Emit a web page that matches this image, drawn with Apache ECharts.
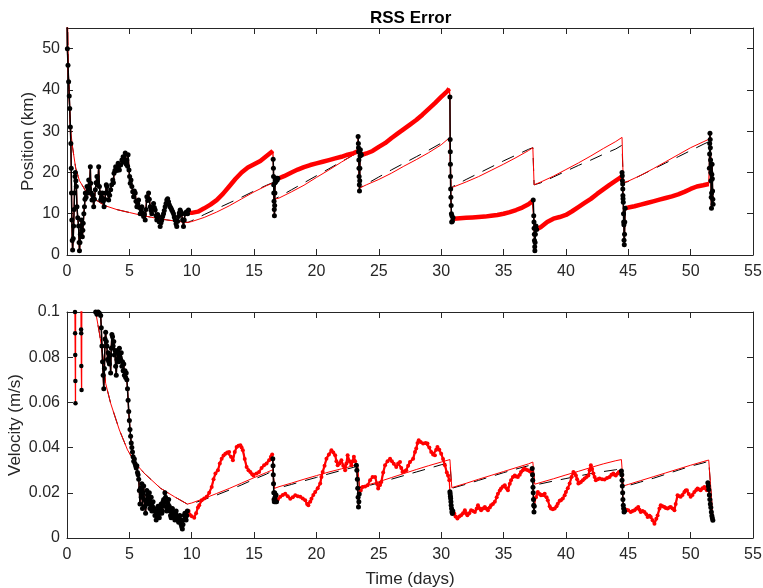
<!DOCTYPE html>
<html>
<head>
<meta charset="utf-8">
<title>RSS Error</title>
<script src="https://cdn.jsdelivr.net/npm/echarts@6.0.0/dist/echarts.min.js"></script>
<style>
  html, body { margin: 0; padding: 0; background: #ffffff; }
  #chart { width: 763px; height: 588px; }
</style>
</head>
<body>
<div id="chart"></div>
<script>
// ---------- axes ----------
const timeTicks = [0, 5, 10, 15, 20, 25, 30, 35, 40, 45, 50, 55];
const posTicks = [0, 10, 20, 30, 40, 50];
const posMax = 55;
const velTicks = [0, 0.02, 0.04, 0.06, 0.08, 0.1];

// ---------- position error (km): [time in days, value] ----------
// tracked span (black markers), first 9.7 days
const posPass0 = [[0,58],[0.03,50],[0.08,46],[0.13,42],[0.18,38.5],[0.22,35.5],[0.27,31],[0.31,27],[0.34,21],[0.36,15],[0.39,8.5],[0.42,3.5],[0.45,1.2],[0.5,4],[0.53,7],[0.57,11],[0.6,15],[0.64,19],[0.67,20],[0.71,18],[0.75,16.6],[0.8,11.7],[0.86,9],[0.93,7],[0.97,3],[1.0,1],[1.04,3],[1.07,5],[1.11,7],[1.15,8.5],[1.19,6],[1.23,4.4],[1.27,6],[1.3,7.7],[1.35,10],[1.4,11.7],[1.44,13.5],[1.47,15],[1.53,14],[1.6,16.6],[1.67,15],[1.74,18.2],[1.8,16],[1.87,21.4],[1.9,17.4],[1.95,15],[2.0,13.3],[2.07,14.5],[2.14,11.7],[2.2,13.5],[2.27,15.8],[2.33,17.5],[2.4,19],[2.47,17],[2.54,21.4],[2.6,16.6],[2.65,15],[2.7,13.3],[2.77,14],[2.84,15],[2.9,13],[2.97,11.7],[3.03,13.5],[3.1,15],[3.15,17],[3.2,16.6],[3.27,15],[3.34,13.3],[3.42,14.5],[3.5,15.8],[3.58,17],[3.67,18.2],[3.72,17.5],[3.77,19.8],[3.84,20.5],[3.9,21.4],[4.0,20.5],[4.1,22.2],[4.2,20.6],[4.3,21.8],[4.4,23],[4.5,23.8],[4.58,22.5],[4.67,24.7],[4.75,22],[4.8,23],[4.86,21.5],[4.9,24.3],[4.97,20.6],[5.02,19],[5.07,17.4],[5.13,18.2],[5.2,16.6],[5.27,15.3],[5.34,14.1],[5.4,15.5],[5.47,15],[5.53,13],[5.6,11.7],[5.67,12.5],[5.74,13.3],[5.8,11.5],[5.87,10],[5.94,11],[6.0,11.7],[6.07,10.2],[6.14,9.3],[6.2,9.8],[6.27,8.5],[6.33,11],[6.4,14.1],[6.47,13.2],[6.54,15],[6.6,13.5],[6.67,11.7],[6.74,10.8],[6.8,10],[6.87,11.3],[6.94,12.5],[7.0,11.5],[7.07,10.9],[7.14,9.5],[7.2,8.5],[7.27,9.8],[7.34,9.3],[7.4,8],[7.47,6.9],[7.54,7.8],[7.6,8.5],[7.67,9.3],[7.74,10],[7.8,10.8],[7.87,11.7],[7.94,12.5],[8.0,13.3],[8.07,13.6],[8.14,12.9],[8.2,12.2],[8.27,11.7],[8.34,11.3],[8.4,10.9],[8.47,10.5],[8.54,10],[8.6,9.2],[8.67,8.5],[8.74,7.6],[8.8,6.9],[8.87,8.2],[8.94,9.3],[9.0,10.2],[9.07,10.9],[9.14,10.4],[9.2,10],[9.27,8.5],[9.34,6.9],[9.4,8.5],[9.47,10],[9.54,10.3],[9.6,10.5],[9.67,10],[9.74,10.9]];
const posCoast1 = [[9.8,10.3],[10,10.2],[10.5,10.5],[11,11.3],[11.5,12.2],[12,13.3],[12.5,14.8],[13,16.6],[13.5,18.4],[14,20],[14.5,21.2],[15,22],[15.5,22.8],[16,24],[16.5,25.2]];
const posPass1 = [[16.53,23.2],[16.55,21],[16.56,19],[16.57,17],[16.58,15],[16.6,13],[16.62,11],[16.63,9.5],[16.65,12],[16.67,15],[16.68,17.5],[16.7,18.2],[16.75,17.8],[16.8,18.6],[16.85,18.2],[16.9,18.6]];
const posCoast2 = [[17,18.6],[17.4,19.1],[18,20],[18.5,20.7],[19,21.3],[19.5,21.8],[20,22.2],[20.5,22.6],[21,23],[21.5,23.4],[22,23.8],[22.5,24.3],[23,24.7],[23.3,25.1]];
const posPass2 = [[23.34,28.7],[23.36,27],[23.37,26],[23.38,25],[23.4,23],[23.41,21],[23.42,19],[23.44,17],[23.45,15.5],[23.47,18],[23.48,21],[23.5,24],[23.52,25.5],[23.55,24.5],[23.6,24.2]];
const posCoast3 = [[23.7,24.3],[24,24.6],[24.5,25.2],[25,26.2],[25.5,27.1],[26,28.3],[26.5,29.4],[27,30.5],[27.5,31.6],[28,32.7],[28.5,34],[29,35.4],[29.5,36.8],[30,38.3],[30.5,39.7],[30.65,40.3]];
const posPass3 = [[30.7,38.3],[30.72,28],[30.73,25],[30.74,22],[30.75,19],[30.76,16],[30.78,14],[30.8,12],[30.82,10],[30.84,8],[30.86,9.5],[30.9,8.2],[30.95,9]];
const posCoast4 = [[31,8.8],[31.5,8.9],[32,9],[32.5,9.1],[33,9.2],[33.5,9.3],[34,9.5],[34.5,9.7],[35,10],[35.5,10.4],[36,10.9],[36.5,11.5],[37,12.3],[37.3,13.0]];
const posPass4 = [[37.38,13.3],[37.42,9.5],[37.44,8],[37.45,6.5],[37.47,5],[37.48,3.5],[37.5,2],[37.51,1],[37.53,3],[37.55,5],[37.57,6.5],[37.6,7],[37.65,6.2]];
const posCoast5 = [[37.7,6.3],[38,6.8],[38.5,8],[39,8.8],[39.5,9.2],[40,9.7],[40.5,10.6],[41,11.6],[41.5,12.6],[42,13.6],[42.5,14.8],[43,15.9],[43.5,17],[44,18],[44.45,18.9]];
const posPass5 = [[44.5,20],[44.52,19.2],[44.53,18],[44.55,17.2],[44.56,16],[44.57,14.4],[44.58,13.6],[44.6,12.8],[44.62,10],[44.63,8],[44.65,7.3],[44.66,3.6],[44.68,2.5],[44.7,5],[44.72,8],[44.75,11.3]];
const posCoast6 = [[44.8,11.4],[45,11.5],[45.5,11.8],[46,12.2],[46.5,12.6],[47,13],[47.5,13.4],[48,13.8],[48.5,14.2],[49,14.7],[49.5,15.3],[50,16],[50.5,16.6],[51,16.9],[51.45,17.2]];
const posPass6 = [[51.5,21],[51.52,24.5],[51.53,27],[51.55,29.5],[51.57,28],[51.58,26],[51.6,23],[51.62,20],[51.63,18],[51.65,14],[51.67,11.3],[51.68,15],[51.7,19.5],[51.72,22],[51.74,18.5],[51.76,15.5],[51.78,13.5],[51.8,12.3]];
// covariance bounds (km)
const posSigma = [[0,70],[0.1,45],[0.2,36],[0.3,30],[0.45,26],[0.7,21],[1.0,18],[1.5,15.5],[2,14],[2.5,13],[3,12],[4,11],[5,10.3],[6,9.6],[7,9],[8,8.5],[9,8.1],[9.7,7.9],
  [10,8.1],[11,9.1],[12,10.4],[13,11.9],[14,13.6],[15,15.3],[16,16.8],[16.55,17.5],[16.62,13.5],
  [17,13.8],[18,15.3],[19,16.9],[20,18.8],[21,20.6],[22,22.5],[23,24.3],[23.35,25.0],[23.45,16.2],
  [24,17],[25,18.3],[26,19.8],[27,21.5],[28,23.1],[29,24.8],[30,26.7],[30.7,28.5],[30.78,16.2],
  [31,16.5],[32,17.7],[33,19],[34,20.5],[35,22],[36,23.6],[37,25.3],[37.35,26],[37.45,17],
  [38,17.7],[39,19.1],[40,20.7],[41,22.3],[42,24],[43,25.8],[44,27.5],[44.5,28.5],[44.6,17.5],
  [45,17.9],[46,19.3],[47,20.9],[48,22.6],[49,24.3],[50,26],[51,27.4],[51.5,28.1],[51.6,24],[51.75,20]];
const posSigmaRef = [[0,70],[0.1,45],[0.2,36],[0.3,30],[0.45,26],[0.7,21],[1.0,18],[1.5,15.5],[2,14],[2.5,13],[3,12],[4,11],[5,10.3],[6,9.6],[7,9],[8,8.5],[9,8.1],[9.7,7.9],
  [10,8.3],[11,9.8],[12,11.2],[13,12.6],[14,14],[15,15.5],[16,16.9],[16.55,17.6],[16.62,13.5],
  [17,14.1],[18,15.8],[19,17.5],[20,19.2],[21,20.9],[22,22.6],[23,24.3],[23.35,25.0],[23.45,16.2],
  [24,17.2],[25,18.9],[26,20.6],[27,22.2],[28,23.8],[29,25.4],[30,27.1],[30.7,28.3],[30.78,16.2],
  [31,16.7],[32,18.3],[33,19.8],[34,21.3],[35,22.8],[36,24.2],[37,25.6],[37.35,26],[37.45,17],
  [38,17.5],[39,18.9],[40,20.3],[41,21.7],[42,23.0],[43,24.4],[44,25.7],[44.5,26.6],[44.6,17.5],
  [45,17.8],[46,19.3],[47,20.8],[48,22.3],[49,23.8],[50,25.3],[51,26.8],[51.5,27.5],[51.6,24]];

// ---------- velocity error (m/s): [time in days, value] ----------
const velEarly = [[0,0.6],[0.3,0.35],[0.6,0.2],[0.64,0.1],[0.65,0.0906],[0.66,0.081],[0.67,0.0695],[0.68,0.0596],[0.7,0.16],[1.0,0.2],[1.12,0.11],[1.13,0.0923],[1.14,0.0906],[1.15,0.0761],[1.17,0.0655],[1.2,0.15],[1.7,0.16],[2.1,0.12]];
const velPass0 = [[2.3,0.1],[2.4,0.099],[2.5,0.1],[2.6,0.0995],[2.7,0.0985],[2.75,0.093],[2.8,0.085],[2.85,0.078],[2.9,0.072],[2.95,0.066],[3.0,0.075],[3.05,0.088],[3.1,0.091],[3.15,0.087],[3.2,0.085],[3.25,0.079],[3.3,0.082],[3.35,0.078],[3.4,0.077],[3.45,0.081],[3.5,0.073],[3.55,0.084],[3.6,0.09],[3.65,0.089],[3.7,0.085],[3.75,0.087],[3.8,0.081],[3.85,0.083],[3.9,0.076],[3.95,0.072],[4.0,0.079],[4.05,0.083],[4.1,0.082],[4.15,0.078],[4.2,0.084],[4.25,0.08],[4.3,0.079],[4.35,0.082],[4.4,0.076],[4.45,0.078],[4.5,0.074],[4.55,0.077],[4.6,0.072],[4.65,0.074],[4.7,0.071],[4.75,0.073],[4.8,0.07],[4.85,0.066],[4.9,0.061],[4.95,0.056],[5.0,0.052],[5.05,0.048],[5.1,0.045],[5.15,0.042],[5.2,0.04],[5.25,0.038],[5.3,0.036],[5.35,0.034],[5.4,0.035],[5.45,0.033],[5.5,0.032],[5.55,0.031],[5.6,0.032],[5.65,0.029],[5.7,0.028],[5.75,0.026],[5.8,0.021],[5.85,0.015],[5.9,0.022],[5.95,0.018],[6.0,0.024],[6.05,0.013],[6.1,0.02],[6.15,0.023],[6.2,0.017],[6.25,0.014],[6.3,0.011],[6.35,0.016],[6.4,0.021],[6.45,0.019],[6.5,0.017],[6.55,0.015],[6.6,0.02],[6.65,0.013],[6.7,0.016],[6.75,0.018],[6.8,0.012],[6.85,0.014],[6.9,0.016],[6.95,0.012],[7.0,0.013],[7.05,0.01],[7.1,0.012],[7.15,0.008],[7.2,0.011],[7.25,0.01],[7.3,0.014],[7.35,0.013],[7.4,0.009],[7.45,0.011],[7.5,0.013],[7.55,0.015],[7.6,0.011],[7.65,0.012],[7.7,0.016],[7.75,0.017],[7.8,0.014],[7.85,0.02],[7.9,0.018],[7.95,0.016],[8.0,0.012],[8.05,0.013],[8.1,0.015],[8.15,0.017],[8.2,0.014],[8.25,0.012],[8.3,0.01],[8.35,0.009],[8.4,0.012],[8.45,0.013],[8.5,0.01],[8.55,0.011],[8.6,0.009],[8.65,0.008],[8.7,0.011],[8.75,0.012],[8.8,0.01],[8.85,0.009],[8.9,0.008],[8.95,0.007],[9.0,0.009],[9.05,0.01],[9.1,0.008],[9.15,0.006],[9.2,0.005],[9.25,0.004],[9.3,0.006],[9.35,0.008],[9.4,0.01],[9.45,0.011],[9.5,0.009],[9.55,0.008],[9.6,0.01],[9.65,0.012]];
const velCoast1 = [[9.75,0.012],[9.85,0.0103],[10.0,0.0096],[10.2,0.009],[10.35,0.011],[10.5,0.0135],[10.6,0.0145],[10.8,0.0167],[11.0,0.0175],[11.2,0.0182],[11.4,0.02],[11.6,0.0226],[11.75,0.026],[11.9,0.0285],[12.1,0.03],[12.25,0.033],[12.4,0.0351],[12.55,0.0365],[12.7,0.0373],[12.85,0.0378],[13.0,0.0381],[13.15,0.036],[13.3,0.0344],[13.45,0.038],[13.6,0.0403],[13.75,0.0408],[13.9,0.041],[14.0,0.04],[14.1,0.0388],[14.25,0.035],[14.4,0.0314],[14.55,0.03],[14.7,0.0292],[14.85,0.0282],[14.95,0.0277],[15.2,0.0285],[15.4,0.0292],[15.6,0.031],[15.8,0.0322],[16.0,0.033],[16.2,0.0344],[16.35,0.036],[16.45,0.037]];
const velPass1 = [[16.5,0.0351],[16.52,0.032],[16.54,0.028],[16.56,0.024],[16.58,0.02],[16.6,0.017],[16.62,0.016],[16.65,0.02],[16.68,0.018],[16.72,0.016],[16.76,0.019],[16.8,0.016]];
const velCoast2 = [[16.9,0.017],[17.1,0.0182],[17.3,0.019],[17.5,0.0196],[17.7,0.0185],[17.9,0.0174],[18.1,0.018],[18.3,0.0189],[18.5,0.0185],[18.7,0.0182],[18.9,0.0175],[19.1,0.0167],[19.25,0.015],[19.35,0.0145],[19.5,0.016],[19.6,0.0174],[19.75,0.019],[19.9,0.0204],[20.1,0.022],[20.3,0.0241],[20.4,0.027],[20.5,0.0292],[20.65,0.032],[20.8,0.0351],[21.0,0.037],[21.2,0.0388],[21.35,0.0378],[21.5,0.0366],[21.6,0.034],[21.7,0.0322],[21.85,0.033],[22.0,0.0344],[22.15,0.032],[22.3,0.03],[22.4,0.033],[22.5,0.0366],[22.65,0.034],[22.8,0.0322],[22.9,0.034],[23.0,0.0359],[23.1,0.034]];
const velPass2 = [[23.2,0.0322],[23.24,0.03],[23.28,0.026],[23.31,0.022],[23.34,0.018],[23.37,0.0137],[23.4,0.016],[23.43,0.0195]];
const velCoast3 = [[23.55,0.021],[23.7,0.0226],[23.9,0.0228],[24.1,0.0233],[24.3,0.0255],[24.5,0.027],[24.7,0.027],[24.85,0.024],[24.95,0.0219],[25.1,0.0235],[25.2,0.0248],[25.35,0.029],[25.5,0.0322],[25.7,0.034],[25.9,0.0351],[26.05,0.034],[26.2,0.0329],[26.4,0.0314],[26.55,0.033],[26.7,0.0336],[26.8,0.031],[26.9,0.0292],[27.05,0.0295],[27.2,0.03],[27.35,0.032],[27.5,0.0336],[27.75,0.0351],[27.9,0.038],[28.0,0.0396],[28.1,0.042],[28.2,0.0433],[28.35,0.0425],[28.55,0.0418],[28.75,0.042],[28.9,0.0418],[29.05,0.04],[29.2,0.0381],[29.35,0.037],[29.5,0.0366],[29.6,0.039],[29.7,0.0403],[29.85,0.039],[30.0,0.0373],[30.15,0.035],[30.3,0.0322],[30.45,0.029],[30.55,0.0277],[30.65,0.0255]];
const velPass3 = [[30.7,0.0205],[30.72,0.0196],[30.74,0.0185],[30.76,0.0175],[30.78,0.016],[30.8,0.0145],[30.83,0.013],[30.86,0.0115],[30.9,0.0108],[30.93,0.012]];
const velCoast4 = [[31.05,0.0108],[31.15,0.0095],[31.3,0.0086],[31.45,0.0095],[31.6,0.0101],[31.75,0.011],[31.9,0.0123],[32.0,0.011],[32.1,0.0101],[32.25,0.011],[32.4,0.0123],[32.55,0.012],[32.7,0.0115],[32.85,0.013],[32.95,0.0145],[33.1,0.013],[33.2,0.0123],[33.35,0.013],[33.5,0.0137],[33.6,0.013],[33.75,0.0123],[33.9,0.0135],[34.0,0.0145],[34.15,0.015],[34.3,0.016],[34.45,0.018],[34.55,0.0196],[34.7,0.021],[34.8,0.0219],[34.95,0.0228],[35.1,0.0233],[35.25,0.022],[35.35,0.0211],[35.5,0.024],[35.6,0.0255],[35.75,0.027],[35.9,0.0277],[36.0,0.0272],[36.15,0.027],[36.3,0.028],[36.4,0.0292],[36.55,0.03],[36.65,0.0307],[36.8,0.0303],[36.95,0.03],[37.1,0.0295],[37.2,0.0292]];
const velPass4 = [[37.3,0.0307],[37.32,0.028],[37.34,0.0255],[37.36,0.0225],[37.38,0.02],[37.4,0.017],[37.42,0.0145],[37.44,0.0115],[37.46,0.014]];
const velCoast5 = [[37.6,0.018],[37.75,0.0204],[37.9,0.0195],[38.0,0.0189],[38.15,0.019],[38.3,0.0196],[38.45,0.018],[38.55,0.0167],[38.7,0.014],[38.8,0.013],[38.95,0.0127],[39.1,0.013],[39.25,0.014],[39.35,0.0152],[39.5,0.0165],[39.6,0.0167],[39.75,0.0175],[39.9,0.0189],[40.0,0.0204],[40.15,0.022],[40.3,0.0241],[40.45,0.027],[40.6,0.0292],[40.7,0.0285],[40.8,0.0277],[40.9,0.026],[41.0,0.0241],[41.1,0.0245],[41.2,0.0248],[41.35,0.0255],[41.5,0.0263],[41.65,0.027],[41.8,0.0277],[41.9,0.03],[42.0,0.0322],[42.1,0.0305],[42.2,0.0285],[42.3,0.027],[42.4,0.0255],[42.55,0.026],[42.7,0.0263],[42.9,0.026],[43.1,0.0259],[43.3,0.0265],[43.5,0.027],[43.65,0.028],[43.8,0.0285],[43.9,0.028],[44.0,0.0277],[44.15,0.0285],[44.25,0.0292],[44.4,0.0292]];
const velPass5 = [[44.45,0.0297],[44.48,0.028],[44.5,0.0255],[44.52,0.023],[44.55,0.02],[44.57,0.017],[44.6,0.0145],[44.63,0.013],[44.66,0.0115],[44.7,0.012]];
const velCoast6 = [[44.85,0.0125],[45.0,0.0123],[45.2,0.0115],[45.35,0.012],[45.5,0.0123],[45.65,0.013],[45.8,0.0137],[45.9,0.0125],[46.0,0.0115],[46.15,0.012],[46.3,0.0115],[46.45,0.0105],[46.55,0.0093],[46.7,0.0098],[46.8,0.0093],[46.95,0.0078],[47.1,0.0063],[47.25,0.0085],[47.35,0.01],[47.5,0.013],[47.6,0.0145],[47.75,0.014],[47.9,0.0137],[48.0,0.0133],[48.15,0.013],[48.3,0.0135],[48.4,0.0137],[48.55,0.013],[48.7,0.0123],[48.8,0.015],[48.95,0.0189],[49.1,0.0185],[49.2,0.0182],[49.35,0.019],[49.5,0.0204],[49.6,0.021],[49.7,0.0211],[49.85,0.0195],[50.0,0.0182],[50.15,0.019],[50.3,0.0204],[50.45,0.0212],[50.55,0.0219],[50.7,0.0215],[50.8,0.0211],[50.95,0.022],[51.1,0.0226],[51.2,0.022],[51.3,0.0211]];
const velPass6 = [[51.38,0.0245],[51.42,0.023],[51.45,0.0215],[51.5,0.019],[51.54,0.017],[51.58,0.015],[51.62,0.0135],[51.66,0.0115],[51.7,0.0098],[51.74,0.0088],[51.78,0.0078]];
// covariance bounds (m/s)
const velSigma = [[0,0.6],[0.5,0.4],[1,0.25],[1.5,0.17],[2,0.125],[2.3,0.1],[2.6,0.0906],[2.85,0.0817],[3.1,0.0684],[3.5,0.0596],[4.2,0.0478],[4.85,0.039],[5.5,0.033],[6.2,0.0286],[7.5,0.022],[8.6,0.0183],[9.65,0.015],
  [10,0.0155],[11,0.0175],[12,0.0197],[13,0.0219],[14,0.0243],[15,0.0267],[16,0.029],[16.5,0.0302],[16.65,0.022],
  [17,0.0227],[18,0.0243],[19,0.026],[20,0.0276],[21,0.0292],[22,0.0306],[23,0.032],[23.3,0.0325],[23.45,0.0226],
  [24,0.0233],[25,0.0249],[26,0.0267],[27,0.0285],[28,0.0303],[29,0.032],[30,0.0336],[30.7,0.0347],[30.85,0.0223],
  [31,0.0225],[32,0.0242],[33,0.026],[34,0.0277],[35,0.0294],[36,0.0311],[37,0.0328],[37.35,0.0336],[37.5,0.0238],
  [38,0.0246],[39,0.0262],[40,0.0279],[41,0.0295],[42,0.0312],[43,0.0328],[44,0.0342],[44.45,0.0347],[44.6,0.023],
  [45,0.0237],[46,0.0254],[47,0.0271],[48,0.0288],[49,0.0305],[50,0.0322],[51,0.0338],[51.45,0.0345],[51.8,0.0085]];
const velSigmaRef = [[0,0.6],[0.5,0.4],[1,0.25],[1.5,0.17],[2,0.125],[2.3,0.1],[2.6,0.0906],[2.85,0.0817],[3.1,0.0684],[3.5,0.0596],[4.2,0.0478],[4.85,0.039],[5.5,0.033],[6.2,0.0286],[7.5,0.022],[8.6,0.0183],[9.65,0.015],
  [10,0.0152],[11,0.017],[12,0.019],[13,0.0212],[14,0.0235],[15,0.026],[16,0.0283],[16.5,0.0298],[16.65,0.022],
  [17,0.0222],[18,0.0237],[19,0.0253],[20,0.0268],[21,0.0284],[22,0.0299],[23,0.0313],[23.3,0.032],[23.45,0.0222],
  [24,0.0229],[25,0.0244],[26,0.026],[27,0.0276],[28,0.0292],[29,0.0308],[30,0.0324],[30.7,0.0335],[30.85,0.022],
  [31,0.0222],[32,0.0238],[33,0.0255],[34,0.0272],[35,0.0289],[36,0.0305],[37,0.032],[37.35,0.033],[37.5,0.0235],
  [38,0.024],[39,0.0252],[40,0.0263],[41,0.0274],[42,0.0285],[43,0.0294],[44,0.0302],[44.45,0.031],[44.6,0.0228],
  [45,0.0232],[46,0.0248],[47,0.0264],[48,0.0282],[49,0.03],[50,0.0318],[51,0.0332],[51.45,0.034],[51.8,0.0085]];

// ---------- figure ----------
const FONT = '"Liberation Sans", Arial, Helvetica, sans-serif';
const INK = '#262626';
const RED = '#ff0000';

const posPasses = [posPass0, posPass1, posPass2, posPass3, posPass4, posPass5, posPass6];
const posCoasts = [posCoast1, posCoast2, posCoast3, posCoast4, posCoast5, posCoast6];
const velPasses = [velPass0, velPass1, velPass2, velPass3, velPass4, velPass5, velPass6];
const velCoasts = [velCoast1, velCoast2, velCoast3, velCoast4, velCoast5, velCoast6];

// full error history in time order: tracked spans interleaved with coasting arcs
const posAll = [].concat(posPass0, posCoast1, posPass1, posCoast2, posPass2, posCoast3, posPass3,
                         posCoast4, posPass4, posCoast5, posPass5, posCoast6, posPass6);
const velAll = [].concat(velEarly, velPass0, velCoast1, velPass1, velCoast2, velPass2, velCoast3, velPass3,
                         velCoast4, velPass4, velCoast5, velPass5, velCoast6, velPass6);

const step = (ticks) => ticks[1] - ticks[0];

function xAxisPair(gridIndex, withName) {
  const base = {
    type: 'value', gridIndex: gridIndex,
    min: timeTicks[0], max: timeTicks[timeTicks.length - 1], interval: step(timeTicks),
    splitLine: { show: false },
    axisLine: { show: true, onZero: false, lineStyle: { color: INK, width: 1 } },
    axisTick: { show: true, inside: true, length: 6, lineStyle: { color: INK } }
  };
  const bottom = Object.assign({}, base, {
    position: 'bottom',
    axisLabel: { show: true, fontFamily: FONT, fontSize: 16, color: INK, margin: 9 }
  });
  if (withName) {
    Object.assign(bottom, {
      name: 'Time (days)', nameLocation: 'middle', nameGap: 33, nameMoveOverlap: false,
      nameTextStyle: { fontFamily: FONT, fontSize: 17, color: INK }
    });
  }
  const top = Object.assign({}, base, { position: 'top', axisLabel: { show: false } });
  return [bottom, top];
}

function yAxisPair(gridIndex, ticks, max, name, gap, fmt) {
  const base = {
    type: 'value', gridIndex: gridIndex,
    min: ticks[0], max: max, interval: step(ticks),
    splitLine: { show: false },
    axisLine: { show: true, onZero: false, lineStyle: { color: INK, width: 1 } },
    axisTick: { show: true, inside: true, length: 6, lineStyle: { color: INK } }
  };
  const left = Object.assign({}, base, {
    position: 'left',
    name: name, nameLocation: 'middle', nameGap: gap, nameMoveOverlap: false,
    nameTextStyle: { fontFamily: FONT, fontSize: 17, color: INK },
    axisLabel: { show: true, fontFamily: FONT, fontSize: 16, color: INK, margin: 7, formatter: fmt }
  });
  const right = Object.assign({}, base, { position: 'right', axisLabel: { show: false } });
  return [left, right];
}

const posFmt = (v) => (posTicks.indexOf(v) >= 0 ? String(v) : '');
const velFmt = (v) => {
  const r = Math.round(v * 1000) / 1000;
  return velTicks.some(t => Math.abs(t - r) < 1e-9) ? String(+r.toFixed(2)) : '';
};

const series = [];
function addLine(xi, yi, data, color, width, extra) {
  series.push(Object.assign({
    type: 'line', xAxisIndex: xi, yAxisIndex: yi, data: data,
    showSymbol: false, symbol: 'none', clip: true, silent: true,
    lineStyle: { color: color, width: width },
    itemStyle: { color: color }
  }, extra || {}));
}
function addDots(xi, yi, data, color, size, lineWidth) {
  series.push({
    type: 'line', xAxisIndex: xi, yAxisIndex: yi, data: data,
    symbol: 'circle', symbolSize: size, showSymbol: true, showAllSymbol: true,
    clip: true, silent: true,
    lineStyle: { color: color, width: lineWidth },
    itemStyle: { color: color, borderWidth: 0 }
  });
}

// position panel (x axis 0, y axis 0)
addLine(0, 0, posSigmaRef, '#000000', 1, { lineStyle: { color: '#000000', width: 1, type: [13, 9] } });
addLine(0, 0, posSigma, RED, 1);
addLine(0, 0, posAll, RED, 1.3);
posCoasts.forEach(c => addLine(0, 0, c, RED, 4.5));
posPasses.forEach(p => addDots(0, 0, p, '#000000', 5, 1.5));

// velocity panel (x axis 2, y axis 2)
addLine(2, 2, velSigmaRef, '#000000', 1, { lineStyle: { color: '#000000', width: 1, type: [13, 9] } });
addLine(2, 2, velSigma, RED, 1);
addLine(2, 2, velAll, RED, 1.3);
velCoasts.forEach(c => addDots(2, 2, c, RED, 4, 2.2));
addDots(2, 2, velEarly, '#000000', 4.5, 0);
velPasses.forEach(p => addDots(2, 2, p, '#000000', 5, 1.5));

const chart = echarts.init(document.getElementById('chart'), null, { renderer: 'canvas' });
chart.setOption({
  animation: false,
  backgroundColor: '#ffffff',
  title: {
    text: 'RSS Error', left: 365, top: 5,
    textStyle: { fontFamily: FONT, fontSize: 17, fontWeight: 'bold', color: '#000000' }
  },
  grid: [
    { left: 67, top: 28, width: 686, height: 227, containLabel: false, outerBoundsMode: 'none' },
    { left: 67, top: 312, width: 686, height: 226, containLabel: false, outerBoundsMode: 'none' }
  ],
  xAxis: [].concat(xAxisPair(0, false), xAxisPair(1, true)),
  yAxis: [].concat(
    yAxisPair(0, posTicks, posMax, 'Position (km)', 30, posFmt),
    yAxisPair(1, velTicks, velTicks[velTicks.length - 1], 'Velocity (m/s)', 43, velFmt)
  ),
  series: series
});
</script>
</body>
</html>
